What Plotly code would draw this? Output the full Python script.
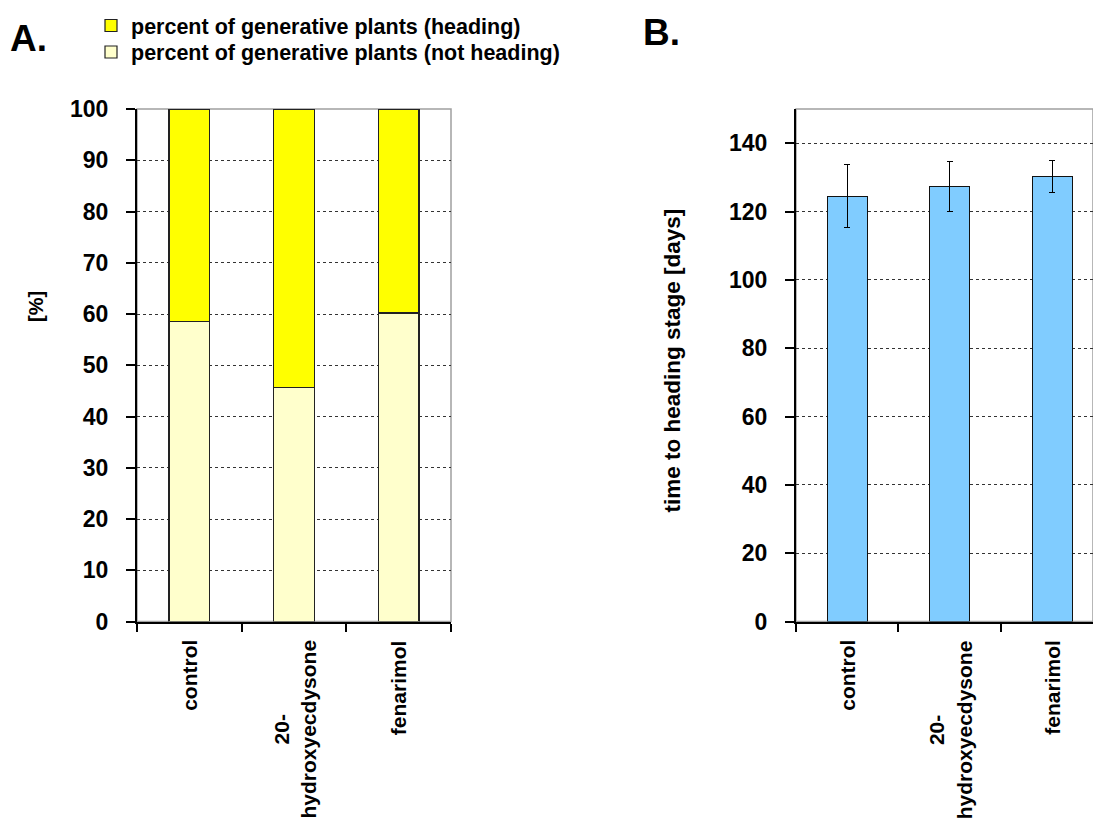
import plotly.graph_objects as go

categories = ["control", "20-hydroxyecdysone", "fenarimol"]
category_labels = ["control", "20-<br>hydroxyecdysone", "fenarimol"]
not_heading_pct = [58.6, 45.7, 60.2]
heading_pct = [41.4, 54.3, 39.8]
days_to_heading = [124.5, 127.3, 130.2]
days_err = [9.2, 7.3, 4.6]
y_ticks_a = [0, 10, 20, 30, 40, 50, 60, 70, 80, 90, 100]
y_ticks_b = [0, 20, 40, 60, 80, 100, 120, 140]

W, H = 1093, 825
FONT = "Liberation Sans, Arial, sans-serif"

def px_x(v):
    return v / W

def px_y(v):
    return 1 - v / H

fig = go.Figure()

fig.add_trace(go.Bar(
    x=categories, y=not_heading_pct, name="percent of generative plants (not heading)",
    marker=dict(color="#FFFFCC", line=dict(color="#222222", width=1.2)),
    width=0.39, xaxis="x", yaxis="y", legend="legend2",
))
fig.add_trace(go.Bar(
    x=categories, y=heading_pct, name="percent of generative plants (heading)",
    marker=dict(color="#FFFF00", line=dict(color="#222222", width=1.2)),
    width=0.39, xaxis="x", yaxis="y", legend="legend",
))
fig.add_trace(go.Bar(
    x=categories, y=days_to_heading, name="time to heading",
    marker=dict(color="#80CCFF", line=dict(color="#111111", width=1)),
    error_y=dict(type="data", array=days_err, color="black", thickness=1, width=3),
    width=0.39, xaxis="x2", yaxis="y2", showlegend=False,
))

yd = [px_y(621.5), px_y(109)]
common_x = dict(type="category", tickson="boundaries", ticks="outside", ticklen=8,
                tickcolor="black", tickwidth=2, showline=True, linecolor="black",
                linewidth=2, showticklabels=False, showgrid=False, zeroline=False,
                categoryorder="array", categoryarray=categories, automargin=False)
common_y = dict(ticks="outside", ticklen=9, tickcolor="black", tickwidth=2,
                showline=True, linecolor="black", linewidth=2,
                showgrid=True, gridcolor="#333333", gridwidth=1, griddash="3px,3px",
                zeroline=False, ticklabelstandoff=13, automargin=False,
                tickfont=dict(family=FONT, size=23, color="black", weight="bold"))
legend_common = dict(xanchor="left", yanchor="middle", bgcolor="rgba(0,0,0,0)",
                     borderwidth=0, itemwidth=30, tracegroupgap=0,
                     font=dict(family=FONT, size=21.5, color="black", weight="bold"))

fig.update_layout(
    template="none",
    width=W, height=H, margin=dict(l=0, r=0, t=0, b=0, pad=0, autoexpand=False),
    paper_bgcolor="white", plot_bgcolor="white",
    barmode="stack", bargap=0.61,
    font=dict(family=FONT, size=20, color="black"),
    xaxis=dict(domain=[px_x(137), px_x(451)], range=[-0.5, 2.5], anchor="y", **common_x),
    yaxis=dict(domain=yd, range=[0, 100], tickvals=y_ticks_a, anchor="x", **common_y),
    xaxis2=dict(domain=[px_x(796), 1.0], range=[-0.5, 2.398], anchor="y2", **common_x),
    yaxis2=dict(domain=yd, range=[0, 150], tickvals=y_ticks_b, anchor="x2", **common_y),
    legend=dict(x=px_x(91), y=px_y(25.5), **legend_common),
    legend2=dict(x=px_x(91), y=px_y(52), **legend_common),
    showlegend=True,
)

# light gray frame on top/right of each plot area
for xr, yr in (("x", "y"), ("x2", "y2")):
    fig.add_shape(type="rect", xref=f"{xr} domain", yref=f"{yr} domain",
                  x0=0, x1=1, y0=0, y1=1, line=dict(color="#A0A0A0", width=1.5),
                  layer="below")

ann = []
for c, lab in zip(categories, category_labels):
    for xr in ("x", "x2"):
        ann.append(dict(xref=xr, yref="paper", x=c, y=px_y(638), text=f"<b>{lab}</b>",
                        textangle=-90, xanchor="center", yanchor="top", align="center",
                        showarrow=False, font=dict(family=FONT, size=21, color="black")))
ann.append(dict(xref="paper", yref="paper", x=px_x(36), y=px_y(307), text="<b>[%]</b>",
                textangle=-90, showarrow=False, xanchor="center", yanchor="middle",
                font=dict(family=FONT, size=20, color="black")))
ann.append(dict(xref="paper", yref="paper", x=px_x(672), y=px_y(360.5),
                text="<b>time to heading stage [days]</b>", textangle=-90, showarrow=False,
                xanchor="center", yanchor="middle",
                font=dict(family=FONT, size=22.5, color="black")))
ann.append(dict(xref="paper", yref="paper", x=px_x(28.5), y=px_y(39), text="<b>A.</b>",
                showarrow=False, xanchor="center", yanchor="middle",
                font=dict(family=FONT, size=37, color="black")))
ann.append(dict(xref="paper", yref="paper", x=px_x(661), y=px_y(32), text="<b>B.</b>",
                showarrow=False, xanchor="center", yanchor="middle",
                font=dict(family=FONT, size=37, color="black")))
fig.update_layout(annotations=ann)

fig.write_html("out.html", config={"displayModeBar": False},
               post_script="document.body.style.margin='0px';")
